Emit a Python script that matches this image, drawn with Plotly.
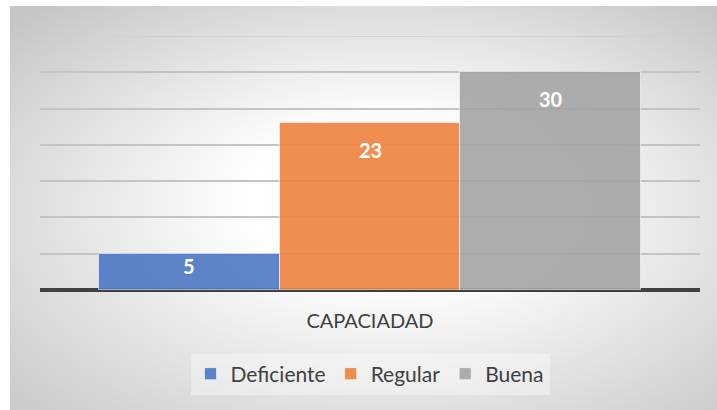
import base64
import plotly.graph_objects as go

# ---- data ----
categories = ["Deficiente", "Regular", "Buena"]
values = [5, 23, 30]
axis_title = "CAPACIADAD"
colors = ["rgba(77,120,195,0.9)", "rgba(237,130,61,0.9)", "rgba(164,164,164,0.9)"]

W, H = 717, 410
ML, MR, MT, MB = 40, 17, 36, 120
YMAX = 35
plot_h = H - MT - MB
px_per_unit = plot_h / YMAX

fig = go.Figure()
for cat, val, col in zip(categories, values, colors):
    fig.add_trace(go.Bar(
        x=[cat], y=[val], name=cat,
        marker=dict(color=col, line=dict(color="rgba(255,255,255,0.55)", width=1)),
        hoverinfo="skip",
    ))

# data labels
for cat, val in zip(categories, values):
    shift = -min(27, val * px_per_unit / 3)
    fig.add_annotation(
        x=cat, y=val, xref="x", yref="y", text=str(val), showarrow=False,
        yanchor="middle", yshift=shift,
        font=dict(family="Lato", size=20, color="white", weight="bold"),
    )

# radial gradient background as an SVG image
svg = (
    '<svg xmlns="http://www.w3.org/2000/svg" width="707" height="404" viewBox="0 0 707 404" preserveAspectRatio="none">'
    '<defs><radialGradient id="g" cx="0.52" cy="0.55" r="0.72" fx="0.55" fy="0.45">'
    '<stop offset="0" stop-color="#ffffff"/>'
    '<stop offset="0.28" stop-color="#ffffff"/>'
    '<stop offset="1" stop-color="#c6c6c6"/>'
    '</radialGradient></defs>'
    '<rect x="0" y="0" width="707" height="404" fill="url(#g)"/></svg>'
)
src = "data:image/svg+xml;base64," + base64.b64encode(svg.encode()).decode()
plot_w = W - ML - MR
fig.add_layout_image(
    source=src, xref="paper", yref="paper",
    x=(10 - ML) / plot_w, y=(H - MB - 6) / plot_h,
    sizex=(W - 10) / plot_w, sizey=(H - 6) / plot_h,
    xanchor="left", yanchor="top", sizing="stretch", layer="below",
)

# top gridline (the grid at the axis edge is not drawn by plotly)
fig.add_hline(y=YMAX, line=dict(color="#cfcfcf", width=1.5), layer="below")

pad = 59 / 180.5
fig.update_layout(
    width=W, height=H,
    margin=dict(l=ML, r=MR, t=MT, b=MB, autoexpand=False),
    paper_bgcolor="white", plot_bgcolor="rgba(0,0,0,0)",
    barmode="overlay", bargap=0,
    font=dict(family="Lato", color="#404040", size=20),
    showlegend=True,
    legend=dict(
        orientation="h", x=0.5, xanchor="center", y=(H - MB - 374) / plot_h, yanchor="middle",
        bgcolor="rgba(255,255,255,0.35)", font=dict(family="Lato", size=21, color="#404040"),
        itemclick=False, itemdoubleclick=False,
    ),
    xaxis=dict(
        range=[-0.5 - pad, len(categories) - 0.5 + pad], automargin=False,
        showticklabels=False, showgrid=False, zeroline=False, fixedrange=True,
        title=dict(text=axis_title, standoff=23, font=dict(family="Lato", size=20, color="#404040")),
    ),
    yaxis=dict(
        range=[0, YMAX], dtick=5, showticklabels=False, automargin=False,
        showgrid=True, gridcolor="#c4c4c4", gridwidth=1.5,
        zeroline=True, zerolinecolor="#404040", zerolinewidth=4,
        fixedrange=True,
    ),
)

fig.write_html(
    "out.html",
    config={"displayModeBar": False},
    post_script="document.body.style.margin='0px';document.body.style.overflow='hidden';",
)
